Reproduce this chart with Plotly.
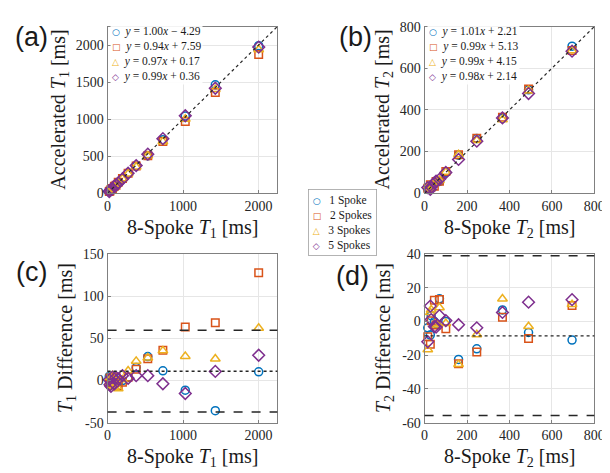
import plotly.graph_objects as go

# ---------------- data ----------------
SERIES = ["1 Spoke", "2 Spokes", "3 Spokes", "5 Spokes"]

T1_REF = [22, 32, 45, 64, 90, 112, 141, 197, 272, 379, 533, 733, 1030, 1428, 2003]
T1_DIFF_1 = [5, -3, 2, -4, 3, 1, -2, 0, 3.8, 15.4, 28.5, 11.5, -11.5, -35.8, 10.4]
T1_DIFF_2 = [-2, 3, -5, 1, -3, 4, -6, -2, 3.8, 13.5, 26, 36, 63.5, 68.5, 128]
T1_DIFF_3 = [-3, 4, -6, 6, -8, 2, -9.6, 1, 11.5, 23, 27, 35.4, 28.8, 25.8, 62.3]
T1_DIFF_5 = [1, -5, -7, 4, -4, 3.8, 2, 5.8, 2.7, 5.8, 5.8, -3.8, -15.4, 10.8, 30]

T2_REF = [15, 27, 31, 46, 54, 70, 100, 160, 246, 367, 490, 695]
T2_DIFF_1 = [-3.7, -8, 3.5, 0, -1.3, 13.5, 0, -22.5, -16.2, 6.9, -6.5, -11]
T2_DIFF_2 = [-9, -13.5, 0.5, 12.7, -2, 13.1, -4.2, -25, -18, 2.5, -10, 9.6]
T2_DIFF_3 = [-16.7, 5.4, 7, -2, -1, 8.3, -1, -25.4, -7.7, 13.5, -2.9, 10.2]
T2_DIFF_5 = [-12, 9.2, 1.2, -3, -3.3, 3.5, 0.6, -1.9, -3.7, 5.4, 11.5, 13]

T1_MEAN, T1_LOA_HI, T1_LOA_LO = 11, 59.8, -37.5
T2_MEAN, T2_LOA_HI, T2_LOA_LO = -8.5, 39, -55.8

T1_FITS = ["<i>y</i> = 1.00<i>x</i> − 4.29", "<i>y</i> = 0.94<i>x</i> + 7.59",
           "<i>y</i> = 0.97<i>x</i> + 0.17", "<i>y</i> = 0.99<i>x</i> + 0.36"]
T2_FITS = ["<i>y</i> = 1.01<i>x</i> + 2.21", "<i>y</i> = 0.99<i>x</i> + 5.13",
           "<i>y</i> = 0.99<i>x</i> + 4.15", "<i>y</i> = 0.98<i>x</i> + 2.14"]

T1_RANGE = [0, 2250]
T2_RANGE = [0, 800]
T1_DIFF_RANGE = [-50, 150]
T2_DIFF_RANGE = [-60, 40]

T1_TICKS = [0, 1000, 2000]
T1_ACC_TICKS = [0, 500, 1000, 1500, 2000]
T2_TICKS = [0, 200, 400, 600, 800]
T1_DIFF_TICKS = [-50, 0, 50, 100, 150]
T1_DIFF_LABELS = ["-50", "0", "50", "100", "150"]
T2_DIFF_TICKS = [-60, -40, -20, 0, 20, 40]
T2_DIFF_LABELS = ["-60", "-40", "-20", "0", "20", "40"]

T1_DIFFS = [T1_DIFF_1, T1_DIFF_2, T1_DIFF_3, T1_DIFF_5]
T2_DIFFS = [T2_DIFF_1, T2_DIFF_2, T2_DIFF_3, T2_DIFF_5]

# ---------------- styles ----------------
COLORS = ["#0072BD", "#D95319", "#EDB120", "#7E2F8E"]
SYMBOLS = ["circle-open", "square-open", "triangle-up-open", "diamond-open"]
SIZES = [8, 7.5, 8.5, 9]
GLYPHS = ["○", "□", "△", "◇"]
SERIF = "Liberation Serif"
W, H = 610, 473


def px(x):
    return x / W


def py(y):
    return 1 - y / H


fig = go.Figure()

# scatter panels (accelerated = 8-spoke - difference)
for i in range(4):
    acc1 = [r - d for r, d in zip(T1_REF, T1_DIFFS[i])]
    acc2 = [r - d for r, d in zip(T2_REF, T2_DIFFS[i])]
    mk = dict(symbol=SYMBOLS[i], size=SIZES[i], color=COLORS[i],
              line=dict(color=COLORS[i], width=1.5))
    fig.add_trace(go.Scatter(x=T1_REF, y=acc1, mode="markers", marker=mk, name=SERIES[i],
                             showlegend=False, cliponaxis=False, xaxis="x", yaxis="y"))
    fig.add_trace(go.Scatter(x=T2_REF, y=acc2, mode="markers", marker=mk, name=SERIES[i],
                             showlegend=False, cliponaxis=False, xaxis="x2", yaxis="y2"))
    fig.add_trace(go.Scatter(x=T1_REF, y=T1_DIFFS[i], mode="markers", marker=mk, name=SERIES[i],
                             showlegend=False, cliponaxis=False, xaxis="x3", yaxis="y3"))
    fig.add_trace(go.Scatter(x=T2_REF, y=T2_DIFFS[i], mode="markers", marker=mk, name=SERIES[i],
                             showlegend=False, cliponaxis=False, xaxis="x4", yaxis="y4"))

# identity lines
fig.add_trace(go.Scatter(x=T1_RANGE, y=T1_RANGE, mode="lines", showlegend=False,
                         line=dict(color="#262626", width=1.2, dash="dot"), xaxis="x", yaxis="y"))
fig.add_trace(go.Scatter(x=T2_RANGE, y=T2_RANGE, mode="lines", showlegend=False,
                         line=dict(color="#262626", width=1.2, dash="dot"), xaxis="x2", yaxis="y2"))

# mean / limits of agreement
for ax, mean, hi, lo in [("3", T1_MEAN, T1_LOA_HI, T1_LOA_LO), ("4", T2_MEAN, T2_LOA_HI, T2_LOA_LO)]:
    fig.add_shape(type="line", xref=f"x{ax} domain", yref=f"y{ax}", x0=0, x1=1, y0=mean, y1=mean,
                  line=dict(color="#262626", width=1.3, dash="dot"))
    for v in (hi, lo):
        fig.add_shape(type="line", xref=f"x{ax} domain", yref=f"y{ax}", x0=0, x1=1, y0=v, y1=v,
                      line=dict(color="#262626", width=1.5, dash="dash"))

axis_style = dict(showline=True, mirror=True, linecolor="#808080", linewidth=1,
                  showgrid=True, gridcolor="#e6e6e6", gridwidth=1, zeroline=False,
                  ticks="inside", ticklen=3, tickcolor="#808080",
                  tickfont=dict(family=SERIF, size=14, color="#262626"))

XA = [px(98), px(272)]
XB = [px(423), px(597)]
YT = [py(184), py(12)]
YB = [py(421), py(247)]

fig.update_layout(
    width=W, height=H, margin=dict(l=0, r=0, t=0, b=0),
    paper_bgcolor="white", plot_bgcolor="white", showlegend=False,
    font=dict(family=SERIF),
    xaxis=dict(domain=XA, range=T1_RANGE, tickvals=T1_TICKS, anchor="y", **axis_style),
    yaxis=dict(domain=YT, range=T1_RANGE, tickvals=T1_ACC_TICKS, anchor="x", **axis_style),
    xaxis2=dict(domain=XB, range=T2_RANGE, tickvals=T2_TICKS, anchor="y2", **axis_style),
    yaxis2=dict(domain=YT, range=T2_RANGE, tickvals=T2_TICKS, anchor="x2", **axis_style),
    xaxis3=dict(domain=XA, range=T1_RANGE, tickvals=T1_TICKS, anchor="y3", **axis_style),
    yaxis3=dict(domain=YB, range=T1_DIFF_RANGE, tickvals=T1_DIFF_TICKS, ticktext=T1_DIFF_LABELS,
                anchor="x3", **axis_style),
    xaxis4=dict(domain=XB, range=T2_RANGE, tickvals=T2_TICKS, anchor="y4", **axis_style),
    yaxis4=dict(domain=YB, range=T2_DIFF_RANGE, tickvals=T2_DIFF_TICKS, ticktext=T2_DIFF_LABELS,
                anchor="x4", **axis_style),
)


def ann(text, x, y, size=20, family=SERIF, angle=0, xanchor="center", yanchor="middle", **kw):
    fig.add_annotation(text=text, x=px(x), y=py(y), xref="paper", yref="paper",
                       showarrow=False, textangle=angle, xanchor=xanchor, yanchor=yanchor,
                       font=dict(family=family, size=size, color="#1a1a1a"), **kw)


# panel letters
for lab, x, y in [("(a)", 20, 23), ("(b)", 352, 23), ("(c)", 20, 265), ("(d)", 349, 270)]:
    ann(lab, x, y, size=27, family="Liberation Sans")

# axis titles
ann("8-Spoke <i>T</i><sub>1</sub> [ms]", 185, 221)
ann("8-Spoke <i>T</i><sub>2</sub> [ms]", 510, 221)
ann("8-Spoke <i>T</i><sub>1</sub> [ms]", 185, 457)
ann("8-Spoke <i>T</i><sub>2</sub> [ms]", 510, 457)
ann("Accelerated <i>T</i><sub>1</sub> [ms]", 49, 98, angle=-90)
ann("Accelerated <i>T</i><sub>2</sub> [ms]", 381, 98, angle=-90)
ann("<i>T</i><sub>1</sub> Difference [ms]", 56, 334, angle=-90)
ann("<i>T</i><sub>2</sub> Difference [ms]", 382, 334, angle=-90)


def glyph(i):
    return (f'<span style="font-family:DejaVu Sans;font-size:9px;font-weight:bold;'
            f'fill:{COLORS[i]};color:{COLORS[i]}">{GLYPHS[i]}</span>')


# fit legends
fit_a = "<br>".join(f"{glyph(i)}  {t}" for i, t in enumerate(T1_FITS))
fit_b = "<br>".join(f"{glyph(i)}  {t}" for i, t in enumerate(T2_FITS))
ann(fit_a, 100, 8, size=11.5, xanchor="left", yanchor="top", align="left",
    bgcolor="rgba(255,255,255,0.9)", borderpad=1)
ann(fit_b, 425, 8, size=11.5, xanchor="left", yanchor="top", align="left",
    bgcolor="rgba(255,255,255,0.9)", borderpad=1)

# series legend
ser = "<br>".join(f"{glyph(i)}   {s}" for i, s in enumerate(SERIES))
ann(ser, 339, 214, size=11.5, align="left", bgcolor="white",
    bordercolor="#a0a0a0", borderwidth=0.8, borderpad=4)

fig.write_html("out.html")
